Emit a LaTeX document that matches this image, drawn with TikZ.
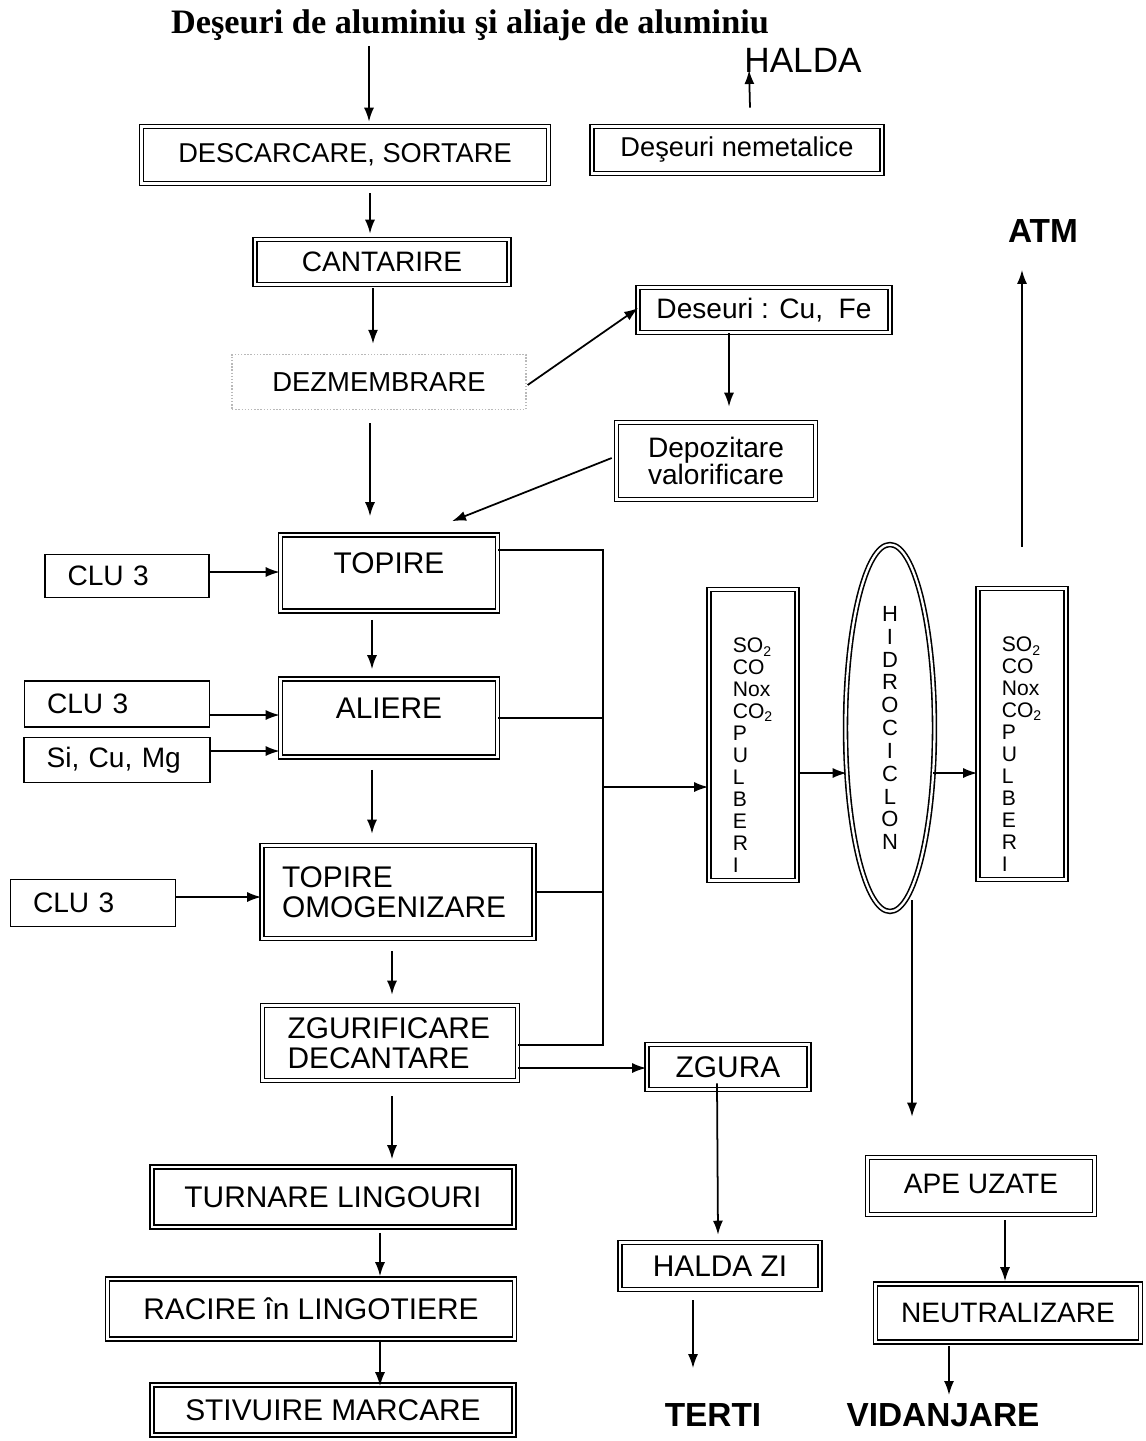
\documentclass[tikz,border=0pt]{standalone}
\usepackage{fontspec}
\setmainfont{Liberation Sans}
\newfontfamily\titlefont{Liberation Serif}
\usepackage{tikz}
\usetikzlibrary{arrows.meta, positioning, shapes.geometric, calc}

\begin{document}
\begin{tikzpicture}[
    x=0.02cm, y=-0.02cm,
    proc/.style={draw, double, double distance=1.3pt, line width=0.9pt, rectangle, align=center, inner sep=2pt, font=\fontsize{17}{17}\selectfont},
    feed/.style={draw, line width=1.1pt, rectangle, align=left, inner xsep=0.45cm, font=\fontsize{16}{17}\selectfont},
    gas/.style={proc, align=left, font=\fontsize{12}{12.5}\selectfont, text height=5.5cm, minimum width=1.76cm, minimum height=5.82cm},
    outlabel/.style={inner sep=0pt, font=\fontsize{19}{22}\selectfont\bfseries},
    line/.style={draw, line width=1pt},
    flow/.style={line, -{Latex[length=2.8mm, width=2mm]}}
]
    \useasboundingbox (0,0) rectangle (1146,1441);

    \node[inner sep=0pt, font=\titlefont\bfseries\fontsize{19.5}{22}\selectfont] (title) at (470,25) {Deşeuri de aluminiu şi aliaje de aluminiu};
    \node[inner sep=0pt, font=\fontsize{20}{22}\selectfont] (halda) at (803,60) {HALDA};

    \node[proc, minimum width=8.14cm, minimum height=1.14cm, font=\fontsize{15.5}{17}\selectfont] (desc) at (345,155) {DESCARCARE, SORTARE};
    \node[proc, minimum width=5.8cm, minimum height=0.94cm, font=\fontsize{15.5}{17}\selectfont] (nemet) at (737,150) {Deşeuri nemetalice};
    \node[proc, minimum width=5.08cm, minimum height=0.9cm, font=\fontsize{16}{17}\selectfont] (cant) at (382,262) {CANTARIRE};
    \node[draw=gray!55, densely dotted, line width=0.8pt, minimum width=5.88cm, minimum height=1.1cm, font=\fontsize{15.6}{17}\selectfont] (dezm) at (379,382) {DEZMEMBRARE};
    \node[proc, minimum width=5.04cm, minimum height=0.9cm, font=\fontsize{16}{17}\selectfont] (cufe) at (764,310) {Deseuri : Cu,~~Fe};
    \node[proc, align=left, minimum width=3.98cm, minimum height=1.54cm, font=\fontsize{16}{15}\selectfont] (depoz) at (716,461) {Depozitare\\valorificare};

    \node[proc, minimum width=4.34cm, minimum height=1.52cm, text depth=0.4cm] (topire) at (389,573) {TOPIRE};
    \node[proc, minimum width=4.34cm, minimum height=1.56cm, text depth=0.4cm] (aliere) at (389,718) {ALIERE};
    \node[proc, align=left, text width=4.64cm, inner xsep=0.4cm, minimum width=5.44cm, minimum height=1.86cm] (omog) at (398,892) {TOPIRE\\OMOGENIZARE};
    \node[proc, align=left, text width=4.1cm, inner xsep=0.5cm, minimum width=5.1cm, minimum height=1.5cm] (zgur) at (390,1043) {ZGURIFICARE\\DECANTARE};
    \node[proc, minimum width=7.24cm, minimum height=1.2cm] (turnare) at (333,1197) {TURNARE LINGOURI};
    \node[proc, minimum width=8.14cm, minimum height=1.2cm] (racire) at (311,1309) {RACIRE în LINGOTIERE};
    \node[proc, minimum width=7.24cm, minimum height=1.0cm] (stiv) at (333,1410) {STIVUIRE MARCARE};

    \node[feed, text width=2.38cm, minimum height=0.86cm] (clua) at (127,576) {CLU 3};
    \node[feed, text width=2.8cm, minimum height=0.92cm] (club) at (117,704) {CLU 3};
    \node[feed, text width=2.82cm, minimum height=0.9cm] (sicu) at (117,760) {Si, Cu, Mg};
    \node[feed, text width=2.4cm, minimum height=0.94cm] (cluc) at (93,903) {CLU 3};

    \node[proc, minimum width=3.24cm, minimum height=0.9cm] (zgura) at (728,1067) {ZGURA};
    \node[proc, minimum width=4.0cm, minimum height=0.94cm] (haldazi) at (720,1266) {HALDA ZI};

    \node[gas] (so2a) at (753,735) {SO\textsubscript{2}\\CO\\Nox\\CO\textsubscript{2}\\P\\U\\L\\B\\E\\R\\I};
    \node[draw, double, double distance=1.3pt, line width=0.9pt, ellipse, align=center, inner sep=1pt, font=\fontsize{12.5}{13}\selectfont, minimum width=1.78cm, minimum height=7.34cm] (hidro) at (890,728) {H\\I\\D\\R\\O\\C\\I\\C\\L\\O\\N};
    \node[gas] (so2b) at (1022,734) {SO\textsubscript{2}\\CO\\Nox\\CO\textsubscript{2}\\P\\U\\L\\B\\E\\R\\I};

    \node[proc, minimum width=4.54cm, minimum height=1.14cm, text depth=0.08cm, font=\fontsize{16}{17}\selectfont] (apeuz) at (981,1186) {APE UZATE};
    \node[proc, minimum width=5.3cm, minimum height=1.16cm, font=\fontsize{16}{17}\selectfont] (neutr) at (1008,1313) {NEUTRALIZARE};

    \node[outlabel] (atm) at (1043,231) {ATM};
    \node[outlabel] (terti) at (713,1415) {TERTI};
    \node[outlabel] (vidanjare) at (943,1415) {VIDANJARE};

    \coordinate (bustop) at (603,550);
    \coordinate (busbot) at (603,1045);
    \coordinate (busout) at (603,787);

    \draw[flow] ($(title.south)+(-101,5)$) -- ($(desc.north)+(24,-4)$);
    \draw[flow] ($(nemet.north)+(13,-18)$) -- ($(halda.west)+(5,10)$);
    \draw[flow] ($(desc.south)+(25,9)$) -- ($(cant.north)+(-12,-5)$);
    \draw[flow] ($(cant.south)+(-9,3)$) -- ($(dezm.north)+(-6,-10)$);
    \draw[flow] ($(dezm.east)+(1,3)$) -- ($(cufe.west)+(1,-2)$);
    \draw[flow] ($(cufe.south)+(-35,0)$) -- ($(depoz.north)+(13,-15)$);
    \draw[flow] ($(depoz.west)+(-4,-3)$) -- ($(topire.north)+(63,-13)$);
    \draw[flow] ($(dezm.south)+(-9,13)$) -- ($(topire.north)+(-19,-18)$);
    \draw[flow] ($(clua.east)+(0,-4)$) -- ($(topire.west)+(0,-1)$);
    \draw[flow] ($(topire.south)+(-17,8)$) -- ($(aliere.north)+(-17,-9)$);
    \draw[flow] ($(club.east)+(0,11)$) -- ($(aliere.west)+(0,-3)$);
    \draw[flow] ($(sicu.east)+(0,-9)$) -- ($(aliere.west)+(0,33)$);
    \draw[flow] ($(aliere.south)+(-17,12)$) -- ($(omog.north)+(-26,-11)$);
    \draw[flow] ($(cluc.east)+(0,-6)$) -- ($(omog.west)+(0,5)$);
    \draw[flow] ($(omog.south)+(-6,12)$) -- ($(zgur.north)+(2,-10)$);
    \draw[flow] ($(zgur.south)+(2,15)$) -- ($(turnare.north)+(59,-7)$);
    \draw[flow] ($(turnare.south)+(47,5)$) -- ($(racire.north)+(69,-2)$);
    \draw[flow] ($(racire.south)+(69,0)$) -- ($(stiv.north)+(47,2)$);

    \draw[line] ($(topire.east)+(0,-23)$) -- (bustop) -- (busbot) -- (busbot -| zgur.east);
    \draw[line] (aliere.east) -- (aliere.east -| bustop);
    \draw[line] (omog.east) -- (omog.east -| bustop);
    \draw[flow] (busout) -- (busout -| so2a.west);

    \draw[flow] ($(zgur.east)+(0,25)$) -- ($(zgura.west)+(0,1)$);
    \draw[flow] ($(zgura.south)+(-11,-7)$) -- ($(haldazi.north)+(-2,-7)$);
    \draw[flow] ($(haldazi.south)+(-27,10)$) -- ($(terti.north)+(-20,-35)$);

    \draw[flow] ($(so2a.east)+(0,38)$) -- ($(hidro.west)+(2,45)$);
    \draw[flow] ($(hidro.east)+(-2,45)$) -- ($(so2b.west)+(0,39)$);
    \draw[flow] ($(so2b.north)+(0,-41)$) -- ($(atm.south)+(-21,27)$);
    \draw[flow] ($(hidro.south)+(22,-12)$) -- ($(apeuz.north)+(-69,-40)$);
    \draw[flow] ($(apeuz.south)+(24,5)$) -- ($(neutr.north)+(-3,-2)$);
    \draw[flow] ($(neutr.south)+(-59,3)$) -- ($(vidanjare.north)+(6,-8)$);
\end{tikzpicture}
\end{document}
